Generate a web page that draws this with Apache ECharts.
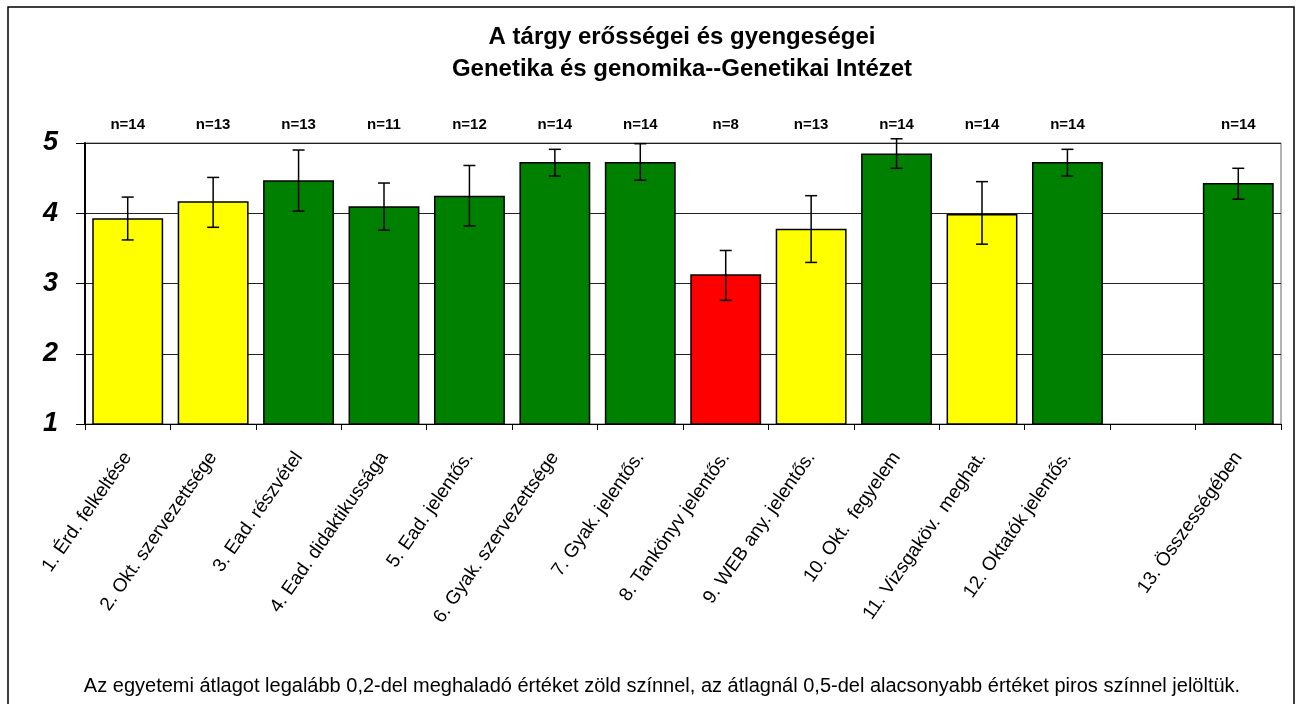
<!DOCTYPE html>
<html>
<head>
<meta charset="utf-8">
<script src="https://cdn.jsdelivr.net/npm/echarts@6/dist/echarts.min.js"></script>
<style>
html,body{margin:0;padding:0;background:#fff;}
#chart{width:1300px;height:704px;}
</style>
</head>
<body>
<div id="chart"></div>
<script>
var categories = ["1. Érd. felkeltése","2. Okt. szervezettsége","3. Ead. részvétel","4. Ead. didaktikussága","5. Ead. jelentős.","6. Gyak. szervezettsége","7. Gyak. jelentős.","8. Tankönyv jelentős.","9. WEB any. jelentős.","10. Okt.  fegyelem","11. Vizsgaköv.  meghat.","12. Oktatók jelentős.","","13. Összességében"];
var nLabels = ["n=14","n=13","n=13","n=11","n=12","n=14","n=14","n=8","n=13","n=14","n=14","n=14","","n=14"];
var values = [3.93, 4.17, 4.47, 4.10, 4.25, 4.73, 4.73, 3.13, 3.78, 4.85, 3.99, 4.73, null, 4.43];
var errHigh = [4.23, 4.51, 4.90, 4.43, 4.68, 4.91, 4.99, 3.47, 4.25, 5.06, 4.45, 4.91, null, 4.64];
var errLow  = [3.62, 3.80, 4.03, 3.76, 3.82, 4.53, 4.47, 2.76, 3.30, 4.64, 3.56, 4.53, null, 4.20];
var colorClass = ["Y","Y","G","G","G","G","G","R","Y","G","Y","G","","G"];
var yTicks = [1, 2, 3, 4, 5];
var titleText = "A tárgy erősségei és gyengeségei\nGenetika és genomika--Genetikai Intézet";
var footnote = "Az egyetemi átlagot legalább 0,2-del meghaladó értéket zöld színnel, az átlagnál 0,5-del alacsonyabb értéket piros színnel jelöltük.";

var palette = {Y: "#FFFF00", G: "#008000", R: "#FF0000"};
var FONT = "Liberation Sans, Arial, sans-serif";

var barData = values.map(function (v, i) {
  return v == null ? null : {value: v, itemStyle: {color: palette[colorClass[i]]}};
});
var errData = [];
values.forEach(function (v, i) {
  if (v != null) errData.push([i, errLow[i], errHigh[i]]);
});

var chart = echarts.init(document.getElementById('chart'), null, {renderer: 'canvas'});
chart.setOption({
  backgroundColor: '#fff',
  animation: false,
  grid: {left: 85, right: 19, top: 143, bottom: 280, show: true, borderColor: '#666', borderWidth: 1, backgroundColor: '#fff'},
  xAxis: [{
    type: 'category',
    data: categories,
    boundaryGap: true,
    axisLine: {show: true, lineStyle: {color: '#000', width: 1}},
    axisTick: {show: true, length: 6, alignWithLabel: false, lineStyle: {color: '#000'}},
    axisLabel: {interval: 0, rotate: 55, margin: 30, fontFamily: FONT, fontSize: 19, color: '#000'}
  }, {
    type: 'category',
    data: nLabels,
    position: 'top',
    boundaryGap: true,
    axisLine: {show: false},
    axisTick: {show: false},
    axisLabel: {interval: 0, margin: 11, fontFamily: FONT, fontSize: 15, fontWeight: 'bold', color: '#000'}
  }],
  yAxis: {
    type: 'value',
    min: yTicks[0],
    max: yTicks[yTicks.length - 1],
    interval: 1,
    axisLine: {show: true, lineStyle: {color: '#000', width: 2}},
    axisTick: {show: true, length: 9, lineStyle: {color: '#000'}},
    splitLine: {show: true, lineStyle: {color: '#222', width: 1}},
    axisLabel: {margin: 27, fontFamily: FONT, fontSize: 27, fontWeight: 'bold', fontStyle: 'italic', color: '#000'}
  },
  series: [{
    type: 'bar',
    data: barData,
    barCategoryGap: '17%',
    itemStyle: {borderColor: '#000', borderWidth: 1.5},
    z: 2
  }, {
    type: 'custom',
    data: errData,
    clip: false,
    z: 5,
    renderItem: function (params, api) {
      var x = api.value(0);
      var lo = api.coord([x, api.value(1)]);
      var hi = api.coord([x, api.value(2)]);
      var hw = 6;
      var style = {stroke: '#000', lineWidth: 1.5, fill: null};
      return {
        type: 'group',
        children: [
          {type: 'line', shape: {x1: hi[0], y1: hi[1], x2: lo[0], y2: lo[1]}, style: style},
          {type: 'line', shape: {x1: hi[0] - hw, y1: hi[1], x2: hi[0] + hw, y2: hi[1]}, style: style},
          {type: 'line', shape: {x1: lo[0] - hw, y1: lo[1], x2: lo[0] + hw, y2: lo[1]}, style: style}
        ]
      };
    }
  }],
  graphic: [{
    type: 'rect',
    shape: {x: 8, y: 7, width: 1286, height: 710},
    style: {fill: null, stroke: '#000', lineWidth: 1.5},
    silent: true
  }, {
    type: 'text',
    x: 682,
    y: 21,
    style: {text: titleText, fontFamily: FONT, fontSize: 24, fontWeight: 'bold', fill: '#000',
            lineHeight: 32, align: 'center', verticalAlign: 'top'}
  }, {
    type: 'text',
    x: 662,
    y: 676,
    style: {text: footnote, fontFamily: FONT, fontSize: 20, fill: '#000', align: 'center', verticalAlign: 'top'}
  }]
});
</script>
</body>
</html>
